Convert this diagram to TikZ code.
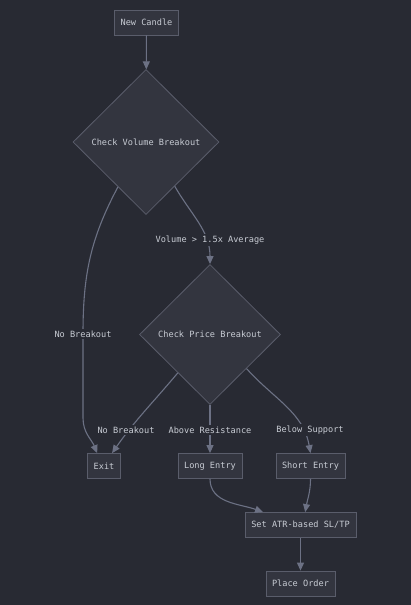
\documentclass[tikz,border=0pt]{standalone}
\usepackage{fontspec}
\setmonofont{DejaVu Sans Mono}
\usetikzlibrary{shapes.geometric,arrows.meta}
\definecolor{bgc}{HTML}{282A33}
\definecolor{nodefill}{HTML}{33353F}
\definecolor{nodeline}{HTML}{5A5D6B}
\definecolor{edgec}{HTML}{6C7184}
\definecolor{txtc}{HTML}{C8CCD4}
\tikzset{
  every node/.style={font=\ttfamily\fontsize{8.6}{10}\selectfont, text=txtc},
  box/.style={draw=nodeline, fill=nodefill, line width=0.8pt, rectangle, minimum height=25pt, inner xsep=6pt, inner ysep=0pt},
  decision/.style={draw=nodeline, fill=nodefill, line width=0.8pt, diamond, inner sep=0pt},
  edge/.style={draw=edgec, line width=1.1pt, -{Triangle[length=8pt,width=7pt]}},
  elabel/.style={fill=bgc, inner sep=1.5pt}
}
\begin{document}
\begin{tikzpicture}[x=1pt,y=-1pt]
\fill[bgc] (0,0) rectangle (411,605);
\useasboundingbox (0,0) rectangle (411,605);
\node[box, minimum width=63pt] (nc) at (146.5,22.5) {New Candle};
\node[decision, minimum width=146pt, minimum height=145pt] (d1) at (146,142) {Check Volume Breakout};
\node[decision, minimum width=141pt, minimum height=140pt] (d2) at (210,334.5) {Check Price Breakout};
\node[box, minimum width=32pt] (exit) at (104,466) {Exit};
\node[box, minimum width=64pt] (long) at (210,466) {Long Entry};
\node[box, minimum width=69pt] (short) at (310.5,466) {Short Entry};
\node[box, minimum width=111pt] (sl) at (300.5,525) {Set ATR-based SL/TP};
\node[box, minimum width=69pt] (po) at (300.5,583.5) {Place Order};

\coordinate (c1) at (83,334);
\coordinate (c2) at (83,418);

\draw[edge] (nc) -- (d1);
\draw[edge] (d1.238) to[out=-118,in=90] (c1) -- (c2) to[out=-90,in=112] (exit.118);
\node[elabel] (l1) at (c1) {No Breakout};
\draw[edge] (d1.303) to[out=-60,in=90] (d2.north);
\node[elabel] (l2) at (210,240) {Volume > 1.5x Average};
\draw[edge] (d2.230) to[out=-130,in=55] (exit.58);
\draw[edge] (d2.south) -- (long.north);
\draw[edge] (d2.317) to[out=-48,in=100] (short.north);
\node[elabel] (l3) at (126,430) {No Breakout};
\node[elabel] (l4) at (210,430) {Above Resistance};
\node[elabel] (l5) at (310,430) {Below Support};
\draw[edge] (long.south) to[out=-90,in=160] (sl.161);
\draw[edge] (short.south) to[out=-90,in=80] (sl.70);
\draw[edge] (sl.south) -- (po.north);
\end{tikzpicture}
\end{document}
